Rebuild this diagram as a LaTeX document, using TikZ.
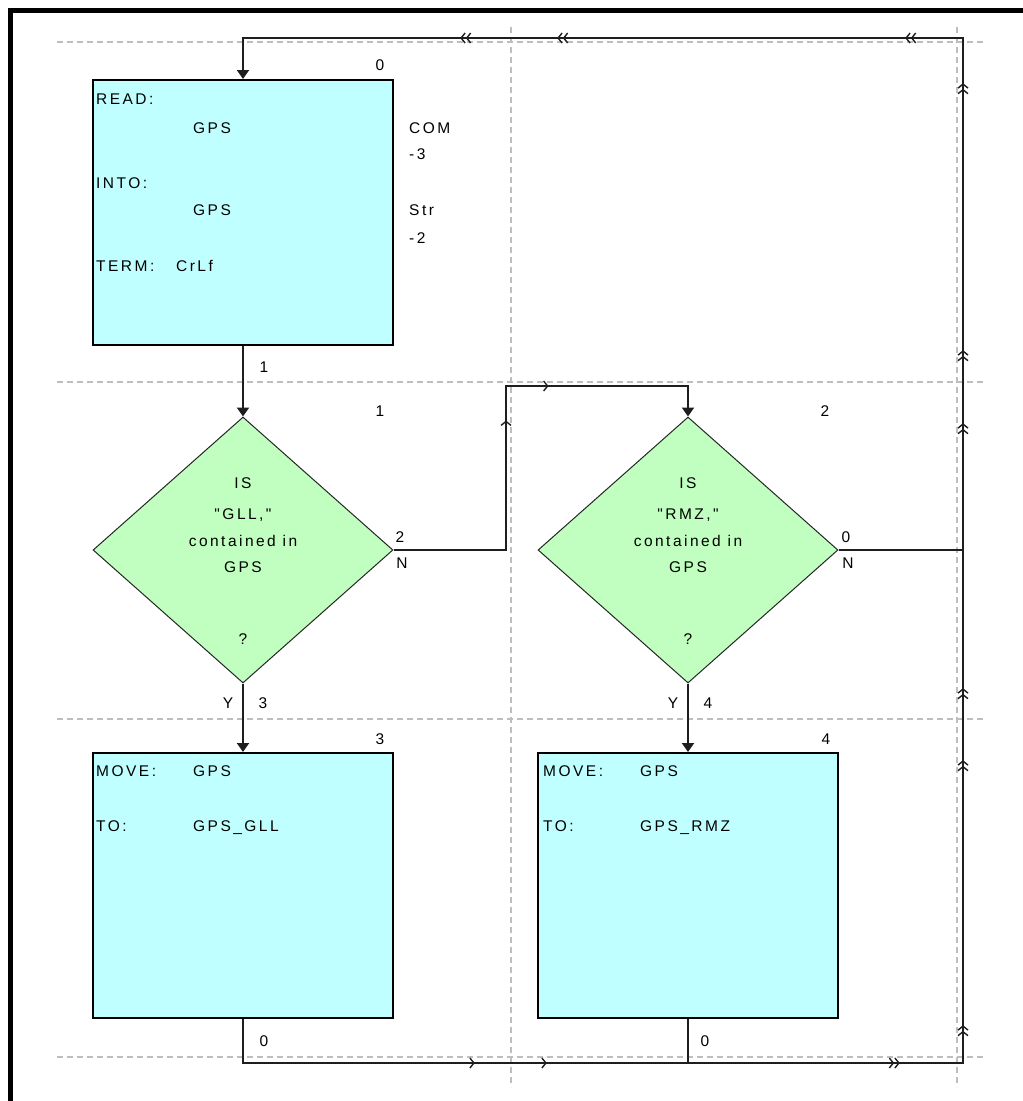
\documentclass[tikz,border=0pt]{standalone}
\usepackage{fontspec}
\newfontfamily\chartfont{Liberation Sans}[LetterSpace=16]
\usetikzlibrary{arrows.meta,positioning,calc,shapes.geometric,decorations.markings}

\definecolor{boxcyan}{RGB}{192,255,255}
\definecolor{testgreen}{RGB}{192,255,192}
\definecolor{gridgrey}{RGB}{190,190,190}
\definecolor{wirecol}{RGB}{30,30,30}

\tikzset{
  chev/.tip={Straight Barb[length=4pt,width=10pt,line width=1.4pt]},
  intotip/.tip={Triangle[length=9pt,width=12pt]},
  actbox/.style={rectangle,draw=black,line width=1.8pt,fill=boxcyan,
    minimum width=300pt,minimum height=265pt,inner sep=0pt,anchor=north},
  testbox/.style={diamond,draw=black!85,line width=1pt,fill=testgreen,
    minimum width=300pt,minimum height=266pt,inner sep=0pt},
  txt/.style={font=\chartfont\fontsize{15.5}{17}\selectfont,inner sep=0pt,anchor=base west},
  ctxt/.style={txt,anchor=base},
  wire/.style={draw=wirecol,line width=2pt},
  gridline/.style={draw=gridgrey,line width=1.3pt,dash pattern=on 6pt off 4pt},
}

\begin{document}
\begin{tikzpicture}[x=1pt,y=-1pt]
\useasboundingbox (0,0) rectangle (1023,1101);

% page frame and grid
\draw[line width=5pt] (10,1101)--(10,10)--(1023,10);
\foreach \gy in {42,382,719,1057}
  \draw[gridline] (57,\gy)--(983,\gy);
\foreach \gx in {511,957}
  \draw[gridline] (\gx,27)--(\gx,1087);

% blocks
\node[actbox] (read) at (243,79) {};
\node[testbox] (isgll) at (243,550) {};
\node[testbox] (isrmz) at (688,550) {};
\node[actbox] (movegll) at (243,752) {};
\node[actbox] (movermz) at (688,752) {};

% block numbers
\node[ctxt] (num0) at (380,70) {0};
\node[ctxt] (num1) at (380,416) {1};
\node[ctxt] (num2) at (825,416) {2};
\node[ctxt] (num3) at (380,744) {3};
\node[ctxt] (num4) at (826,744) {4};

% READ block
\node[txt] (rd1) at (96,104) {READ:};
\node[txt] (rd2) at (193,133) {GPS};
\node[txt] (rd3) at (409,133) {COM};
\node[txt] (rd4) at (409,159) {-3};
\node[txt] (rd5) at (96,188) {INTO:};
\node[txt] (rd6) at (193,215) {GPS};
\node[txt] (rd7) at (409,215) {Str};
\node[txt] (rd8) at (409,243) {-2};
\node[txt] (rd9) at (96,271) {TERM:};
\node[txt] (rd10) at (176,271) {CrLf};

% tests
\node[ctxt] (ga) at (243,488) {IS};
\node[ctxt] (gb) at (243,519) {"GLL,"};
\node[ctxt] (gc) at (243,546) {contained in};
\node[ctxt] (gd) at (243,572) {GPS};
\node[ctxt] (ge) at (243,644) {?};
\node[ctxt] (ra) at (688,488) {IS};
\node[ctxt] (rb) at (688,519) {"RMZ,"};
\node[ctxt] (rc) at (688,546) {contained in};
\node[ctxt] (rdd) at (688,572) {GPS};
\node[ctxt] (re) at (688,644) {?};

% MOVE blocks
\node[txt] (mg1) at (96,776) {MOVE:};
\node[txt] (mg2) at (193,776) {GPS};
\node[txt] (mg3) at (96,831) {TO:};
\node[txt] (mg4) at (193,831) {GPS\_GLL};
\node[txt] (mr1) at (543,776) {MOVE:};
\node[txt] (mr2) at (640,776) {GPS};
\node[txt] (mr3) at (543,831) {TO:};
\node[txt] (mr4) at (640,831) {GPS\_RMZ};

% junction points
\coordinate (busL) at (243,1063);
\coordinate (busM) at (688,1063);
\coordinate (busR) at (963,1063);
\coordinate (topR) at (963,38);
\coordinate (topL) at (243,38);
\coordinate (nRight) at (963,550);
\coordinate (jogB) at (506,550);
\coordinate (jogT) at (506,386);
\coordinate (jogR) at (688,386);

% connectors
\draw[wire,-intotip] (read.south)--(isgll.north);
\draw[wire,-intotip] (isgll.south)--(movegll.north);
\draw[wire,-intotip] (isrmz.south)--(movermz.north);
\draw[wire,-intotip,postaction={decorate},decoration={markings,
    mark=at position 242pt with {\arrow{chev}},
    mark=at position 319pt with {\arrow{chev}}}]
  (isgll.east)--(jogB)--(jogT)--(jogR)--(isrmz.north);
\draw[wire] (isrmz.east)--(nRight);
\draw[wire] (movermz.south)--(busM);
\draw[wire,-intotip,postaction={decorate},decoration={markings,
    mark=at position 276pt with {\arrow{chev}},
    mark=at position 348pt with {\arrow{chev}},
    mark=at position 701pt with {\arrow{chev[]chev[]}},
    mark=at position 802pt with {\arrow{chev[]chev[]}},
    mark=at position 1067pt with {\arrow{chev[]chev[]}},
    mark=at position 1139pt with {\arrow{chev[]chev[]}},
    mark=at position 1404pt with {\arrow{chev[]chev[]}},
    mark=at position 1477pt with {\arrow{chev[]chev[]}},
    mark=at position 1744pt with {\arrow{chev[]chev[]}},
    mark=at position 1847pt with {\arrow{chev[]chev[]}},
    mark=at position 2195pt with {\arrow{chev[]chev[]}},
    mark=at position 2292pt with {\arrow{chev[]chev[]}}}]
  (movegll.south)--(busL)--(busR)--(topR)--(topL)--(read.north);

% connector labels
\node[ctxt] (l1) at (264,372) {1};
\node[ctxt] (l2) at (400,542) {2};
\node[ctxt] (l2n) at (402,568) {N};
\node[ctxt] (l0) at (846,542) {0};
\node[ctxt] (l0n) at (848,568) {N};
\node[ctxt] (ly1) at (228,708) {Y};
\node[ctxt] (l3) at (263,708) {3};
\node[ctxt] (ly2) at (673,708) {Y};
\node[ctxt] (l4) at (708,708) {4};
\node[ctxt] (lb1) at (264,1046) {0};
\node[ctxt] (lb2) at (705,1046) {0};
\end{tikzpicture}
\end{document}
